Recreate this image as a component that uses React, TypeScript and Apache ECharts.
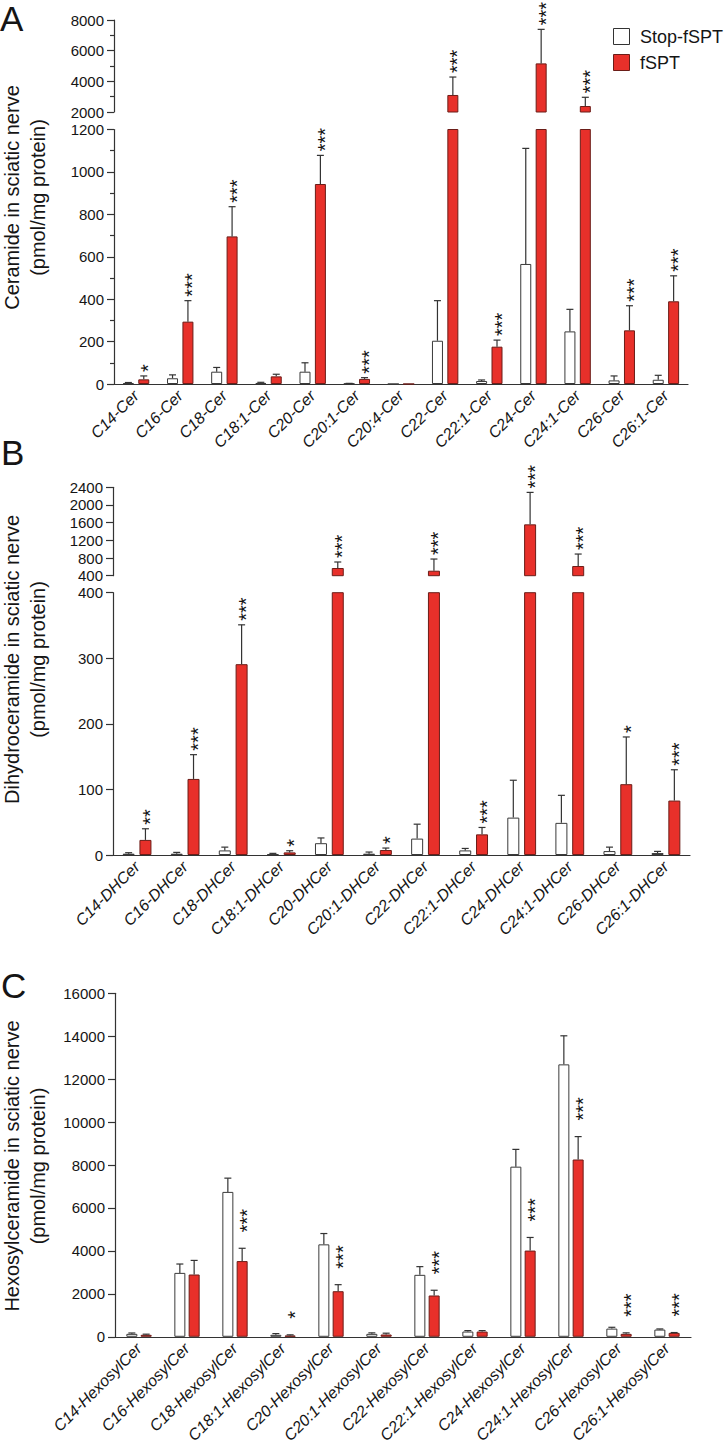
import React, { useEffect, useRef } from 'react';
import * as echarts from 'echarts';

const FONT = 'Liberation Sans, Arial, Helvetica, sans-serif';
const RED = '#E8302A';
const RED_EDGE = '#6b1d18';
const INK = '#151515';
const AXIS = '#333333';

// ---------- Panel A: Ceramide ----------
const catA = ['C14-Cer', 'C16-Cer', 'C18-Cer', 'C18:1-Cer', 'C20-Cer', 'C20:1-Cer', 'C20:4-Cer', 'C22-Cer', 'C22:1-Cer', 'C24-Cer', 'C24:1-Cer', 'C26-Cer', 'C26:1-Cer'];
const stopA = [4, 27, 58, 5, 58, 2, 0, 204, 14, 566, 248, 17, 20];
const stopAErr = [3, 16, 20, 3, 42, 1, 0, 189, 5, 545, 104, 21, 21];
const fsptA = [22, 294, 696, 36, 943, 24, 0, 3110, 176, 5170, 2390, 253, 390];
const fsptAErr = [16, 99, 140, 10, 135, 6, 0, 1170, 31, 2220, 570, 116, 120];
const sigA = ['*', '***', '***', '', '***', '***', '', '***', '***', '***', '***', '***', '***'];
const ticksA = { upper: [2000, 8000, 2000], lower: [0, 1200, 200] };

// ---------- Panel B: Dihydroceramide ----------
const catB = ['C14-DHCer', 'C16-DHCer', 'C18-DHCer', 'C18:1-DHCer', 'C20-DHCer', 'C20:1-DHCer', 'C22-DHCer', 'C22:1-DHCer', 'C24-DHCer', 'C24:1-DHCer', 'C26-DHCer', 'C26:1-DHCer'];
const stopB = [2, 2, 7, 1.5, 18, 2, 25, 7, 57, 49, 6, 3];
const stopBErr = [1.5, 2, 5, 1, 8, 2.5, 22, 3, 57, 42, 6, 2.5];
const fsptB = [23, 116, 291, 4, 574, 7.6, 513, 31.5, 1562, 619, 108, 83];
const fsptBErr = [17, 37, 60, 2.5, 136, 3, 264, 10.5, 723, 271, 72, 47];
const sigB = ['**', '***', '***', '*', '***', '*', '***', '***', '***', '***', '*', '***'];
const ticksB = { upper: [400, 2400, 400], lower: [0, 400, 100] };

// ---------- Panel C: Hexosylceramide ----------
const catC = ['C14-HexosylCer', 'C16-HexosylCer', 'C18-HexosylCer', 'C18:1-HexosylCer', 'C20-HexosylCer', 'C20:1-HexosylCer', 'C22-HexosylCer', 'C22:1-HexosylCer', 'C24-HexosylCer', 'C24:1-HexosylCer', 'C26-HexosylCer', 'C26:1-HexosylCer'];
const stopC = [137, 2977, 6749, 92, 4306, 137, 2886, 244, 7925, 12690, 382, 336];
const stopCErr = [40, 413, 641, 58, 504, 46, 382, 46, 805, 1330, 61, 30];
const fsptC = [92, 2901, 3527, 61, 2123, 107, 1924, 244, 4016, 8258, 137, 183];
const fsptCErr = [30, 657, 596, 30, 305, 61, 244, 46, 611, 1067, 46, 15];
const sigC = ['', '', '***', '*', '***', '', '***', '', '***', '***', '***', '***'];
const ticksC = [0, 16000, 2000];

const seriesNames = ['Stop-fSPT', 'fSPT'];

type Seg = {
  left: number; width: number; top: number; height: number;
  cats: string[]; range: number[]; minor: boolean; showX: boolean;
  stop: number[]; stopErr: number[]; fspt: number[]; fsptErr: number[]; sig: string[];
  barWidth: number; barGap: number; starGap: number;
  barKeep: (v: number) => boolean; errKeep: (v: number) => boolean;
  labelSize: number;
};

function buildOption() {
  const grid: any[] = [];
  const xAxis: any[] = [];
  const yAxis: any[] = [];
  const series: any[] = [];

  const addSeg = (s: Seg) => {
    const idx = grid.length;
    grid.push({ left: s.left, top: s.top, width: s.width, height: s.height });
    xAxis.push({
      type: 'category', gridIndex: idx, data: s.cats, show: s.showX,
      axisLine: { lineStyle: { color: AXIS, width: 1.2 } },
      axisTick: { alignWithLabel: true, interval: 0, length: 6, lineStyle: { color: AXIS, width: 1.2 } },
      axisLabel: { rotate: 45, interval: 0, fontSize: s.labelSize, fontStyle: 'italic', color: INK, margin: 9, fontFamily: FONT },
    });
    yAxis.push({
      type: 'value', gridIndex: idx, min: s.range[0], max: s.range[1], interval: s.range[2],
      axisLine: { show: true, lineStyle: { color: AXIS, width: 1.2 } },
      axisTick: { show: true, length: 7, lineStyle: { color: AXIS, width: 1.2 } },
      minorTick: { show: s.minor, splitNumber: 2, length: 4, lineStyle: { color: AXIS, width: 1.2 } },
      splitLine: { show: false },
      minorSplitLine: { show: false },
      axisLabel: { fontSize: 15, color: INK, margin: 10, fontFamily: FONT, formatter: (v: number) => String(v) },
    });
    const off = (s.barWidth * (1 + s.barGap)) / 2;
    const groups = [
      { name: seriesNames[0], vals: s.stop, errs: s.stopErr, color: '#ffffff', edge: '#3a3a3a', off: -off, sig: null as string[] | null },
      { name: seriesNames[1], vals: s.fspt, errs: s.fsptErr, color: RED, edge: RED_EDGE, off: off, sig: s.sig },
    ];
    groups.forEach((g) => {
      series.push({
        type: 'bar', name: g.name, xAxisIndex: idx, yAxisIndex: idx,
        data: g.vals.map((v) => (s.barKeep(v) ? v : '-')),
        barWidth: s.barWidth, barGap: `${Math.round(s.barGap * 100)}%`,
        itemStyle: { color: g.color, borderColor: g.edge, borderWidth: 1 },
        silent: true,
      });
    });
    groups.forEach((g) => {
      series.push({
        type: 'custom', name: g.name + ' error', xAxisIndex: idx, yAxisIndex: idx, z: 4, silent: true,
        data: g.vals.map((v, i) => [i, v, g.errs[i]]),
        encode: { x: 0, y: 1 },
        renderItem: (params: any, api: any) => {
          const i = params.dataIndex;
          const v = g.vals[i];
          const e = g.errs[i];
          if (!s.errKeep(v) || (v === 0 && e === 0)) return null;
          const base = api.coord([i, v]);
          const top = api.coord([i, v + e]);
          const x = base[0] + g.off;
          const children: any[] = [
            { type: 'line', shape: { x1: x, y1: base[1], x2: x, y2: top[1] }, style: { stroke: AXIS, lineWidth: 1.2 } },
            { type: 'line', shape: { x1: x - 3.5, y1: top[1], x2: x + 3.5, y2: top[1] }, style: { stroke: AXIS, lineWidth: 1.2 } },
          ];
          const sig = g.sig ? g.sig[i] : '';
          if (sig) {
            children.push({
              type: 'text', x: x + 4.5, y: top[1] - s.starGap, rotation: Math.PI / 2,
              style: { text: sig, x: 0, y: 0, align: 'left', verticalAlign: 'middle', font: `20px ${FONT}`, fill: INK },
            });
          }
          return { type: 'group', children };
        },
      });
    });
  };

  const brkA = ticksA.lower[1];
  const brkB = ticksB.lower[1];

  // Panel A
  addSeg({
    left: 114, width: 574, top: 20, height: 92, cats: catA, range: ticksA.upper, minor: true, showX: false,
    stop: stopA, stopErr: stopAErr, fspt: fsptA, fsptErr: fsptAErr, sig: sigA,
    barWidth: 11, barGap: 0.4, starGap: 4, barKeep: (v) => v > brkA, errKeep: (v) => v > brkA, labelSize: 16,
  });
  addSeg({
    left: 114, width: 574, top: 129.5, height: 254.5, cats: catA, range: ticksA.lower, minor: true, showX: true,
    stop: stopA, stopErr: stopAErr, fspt: fsptA, fsptErr: fsptAErr, sig: sigA,
    barWidth: 11, barGap: 0.4, starGap: 4, barKeep: () => true, errKeep: (v) => v <= brkA, labelSize: 16,
  });
  // Panel B
  addSeg({
    left: 113, width: 577, top: 487.3, height: 88.4, cats: catB, range: ticksB.upper, minor: false, showX: false,
    stop: stopB, stopErr: stopBErr, fspt: fsptB, fsptErr: fsptBErr, sig: sigB,
    barWidth: 12, barGap: 0.4, starGap: 4, barKeep: (v) => v > brkB, errKeep: (v) => v > brkB, labelSize: 16,
  });
  addSeg({
    left: 113, width: 577, top: 592.7, height: 262.3, cats: catB, range: ticksB.lower, minor: false, showX: true,
    stop: stopB, stopErr: stopBErr, fspt: fsptB, fsptErr: fsptBErr, sig: sigB,
    barWidth: 12, barGap: 0.4, starGap: 4, barKeep: () => true, errKeep: (v) => v <= brkB, labelSize: 16,
  });
  // Panel C
  addSeg({
    left: 115, width: 576, top: 993.3, height: 349, cats: catC, range: ticksC, minor: false, showX: true,
    stop: stopC, stopErr: stopCErr, fspt: fsptC, fsptErr: fsptCErr, sig: sigC,
    barWidth: 11, barGap: 0.3, starGap: 16, barKeep: () => true, errKeep: () => true, labelSize: 16,
  });

  const yTitle = (y: number, line1: string) => ({
    type: 'text', x: 25, y, rotation: Math.PI / 2,
    style: { text: `${line1}\n(pmol/mg protein)`, align: 'center', verticalAlign: 'middle', font: `20px ${FONT}`, lineHeight: 26, fill: INK },
  });
  const letter = (t: string, x: number, y: number) => ({
    type: 'text', x, y, style: { text: t, align: 'left', verticalAlign: 'middle', font: `35px ${FONT}`, fill: INK },
  });

  const graphic: any[] = [
    letter('A', 0, 18),
    letter('B', 1, 452),
    letter('C', 1, 985),
    yTitle(197.5, 'Ceramide in sciatic nerve'),
    yTitle(659.5, 'Dihydroceramide in sciatic nerve'),
    yTitle(1166, 'Hexosylceramide in sciatic nerve'),
    { type: 'rect', shape: { x: 613.5, y: 28.5, width: 16, height: 16 }, style: { fill: '#fff', stroke: '#333', lineWidth: 1 } },
    { type: 'text', x: 640, y: 36.5, style: { text: seriesNames[0], align: 'left', verticalAlign: 'middle', font: `18px ${FONT}`, fill: INK } },
    { type: 'rect', shape: { x: 613.5, y: 54.5, width: 16, height: 16 }, style: { fill: RED, stroke: RED_EDGE, lineWidth: 1 } },
    { type: 'text', x: 640, y: 62.5, style: { text: seriesNames[1], align: 'left', verticalAlign: 'middle', font: `18px ${FONT}`, fill: INK } },
  ];

  return {
    animation: false,
    backgroundColor: '#ffffff',
    textStyle: { fontFamily: FONT },
    grid, xAxis, yAxis, series, graphic,
  };
}

export default function App() {
  const ref = useRef<HTMLDivElement>(null);
  useEffect(() => {
    const chart = echarts.init(ref.current!, null, { renderer: 'svg', width: 726, height: 1446 });
    chart.setOption(buildOption() as any);
    return () => chart.dispose();
  }, []);
  return (
    <div
      ref={ref}
      style={{ position: 'fixed', left: 0, top: 0, width: 726, height: 1446, background: '#fff' }}
    />
  );
}
